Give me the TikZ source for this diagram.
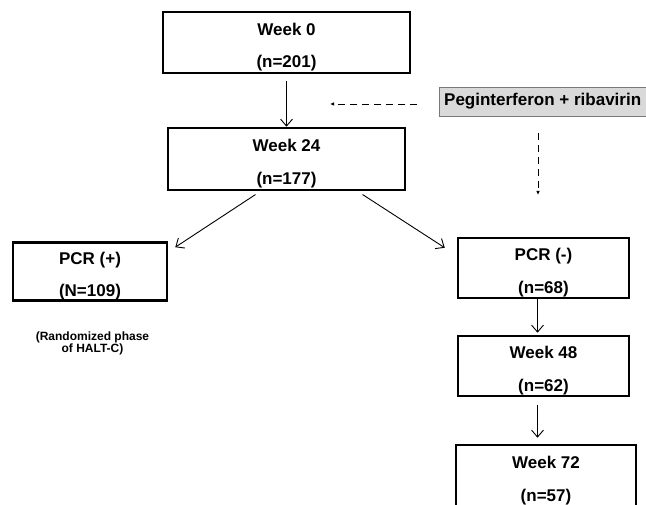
\documentclass[tikz,border=0pt]{standalone}
\usepackage{fontspec}
\setmainfont{Liberation Sans}
\usetikzlibrary{positioning,arrows.meta,calc}
\definecolor{stGray}{RGB}{217,217,217}
\definecolor{stEdge}{RGB}{120,120,120}
\newcommand{\twolines}[2]{\rule{0pt}{22pt}#1\\[12.5pt]#2}
\tikzset{
    base/.style={font=\bfseries\fontsize{17}{20}\selectfont, align=center},
    stage/.style={base, rectangle, draw=black, line width=2.5pt, fill=white, inner sep=0pt},
    drug/.style={base, rectangle, draw=stEdge, thin, fill=stGray, inner xsep=5pt, inner ysep=0pt,
                 minimum height=29pt, anchor=west},
    note/.style={font=\bfseries\fontsize{12}{12}\selectfont, align=center},
    flow/.style={-{Straight Barb[length=7pt,width=12pt]}, line width=0.9pt},
    dose/.style={-{Latex[length=4pt,width=3.5pt]}, line width=0.8pt, dash pattern=on 7pt off 5pt}
}

\begin{document}
\begin{tikzpicture}[x=1pt,y=-1pt]
  \useasboundingbox (0,0) rectangle (646,505);
  % treatment stages
  \node[stage, minimum width=247pt, minimum height=61pt] (w0) at (286.5,42.5) {\twolines{Week 0}{(n=201)}};
  \node[stage, minimum width=237pt, minimum height=62pt] (w24) at (286.5,159) {\twolines{Week 24}{(n=177)}};
  \node[stage, minimum width=154pt, minimum height=57pt] (pcrpos) at (90,271.5) {\twolines{PCR (+)}{(N=109)}};
  \node[stage, minimum width=171pt, minimum height=60pt] (pcrneg) at (543.5,268) {\twolines{PCR (-)}{(n=68)}};
  \node[stage, minimum width=171pt, minimum height=60pt] (w48) at (543.5,366) {\twolines{Week 48}{(n=62)}};
  \node[stage, minimum width=180pt, minimum height=62pt] (w72) at (546,476) {\twolines{Week 72}{(n=57)}};
  \node[note] (halt) at (92.5,343) {(Randomized phase\\of HALT-C)};

  % therapy
  \node[drug] (peg) at (439,101.5) {Peginterferon + ribavirin};
  \coordinate (pegleft) at (330,104);
  \coordinate (pegdown) at (538,195);

  % arrows
  \draw[flow, shorten <=7pt] (w0) -- (w24);
  \draw[flow, shorten <=6pt] ([xshift=-26pt]w24.south) -- ([xshift=7pt,yshift=-6pt]pcrpos.north east);
  \draw[flow, shorten <=6pt] ([xshift=71pt]w24.south) -- ([xshift=-12pt,yshift=-11pt]pcrneg.north west);
  \draw[flow, shorten >=2pt] ([xshift=-6pt]pcrneg.south) -- ([xshift=-6pt]w48.north);
  \draw[flow, shorten <=8pt, shorten >=6pt] ([xshift=-6pt]w48.south) -- ([xshift=-6pt]w48.south |- w72.north);
  \draw[dose, shorten <=22pt] (peg.west |- pegleft) -- (pegleft);
  \draw[dose, shorten <=17pt] (peg.south -| pegdown) -- (pegdown);
\end{tikzpicture}
\end{document}
